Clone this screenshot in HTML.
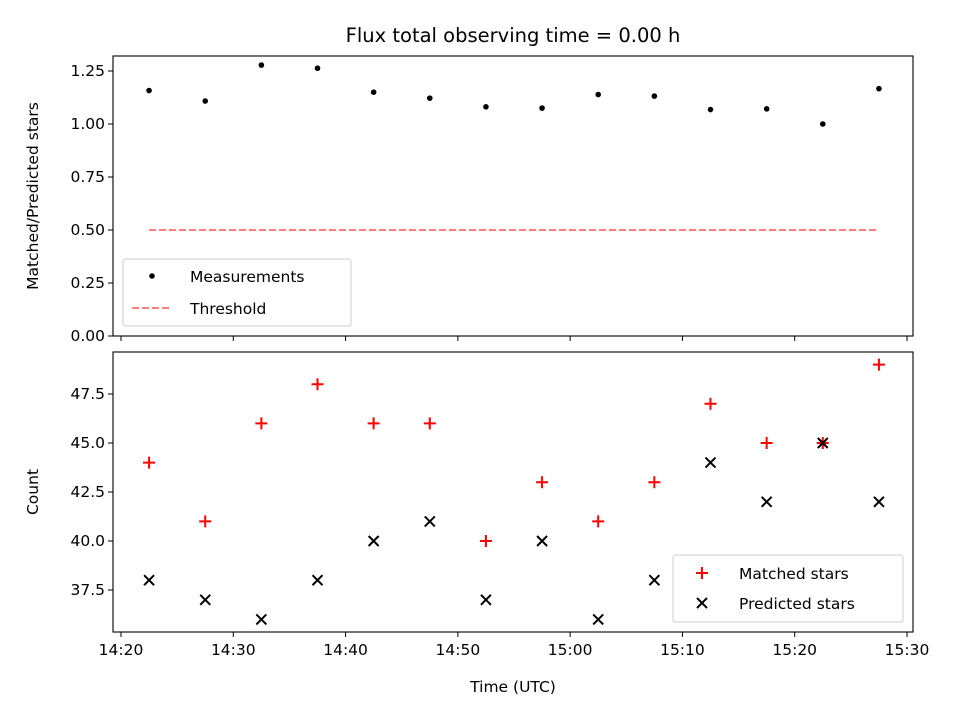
<!DOCTYPE html>
<html><head><meta charset="utf-8"><style>
body{margin:0;background:#fff;}
svg text{font-family:"DejaVu Sans","Liberation Sans",sans-serif;fill:#000;}
</style></head><body>
<svg id="chart" width="960" height="720" xmlns="http://www.w3.org/2000/svg">
<rect width="960" height="720" fill="#fff"/>
<text x="513" y="42" font-size="19.5" text-anchor="middle">Flux total observing time = 0.00 h</text>
<g id="topPanel"></g><g id="botPanel"></g>
</svg>
<script>
const times = ["14:22:30","14:27:30","14:32:30","14:37:30","14:42:30","14:47:30","14:52:30","14:57:30","15:02:30","15:07:30","15:12:30","15:17:30","15:22:30","15:27:30"];
const matched = [44,41,46,48,46,46,40,43,41,43,47,45,45,49];
const predicted = [38,37,36,38,40,41,37,40,36,38,44,42,45,42];
const ratioTicks = [0.00,0.25,0.50,0.75,1.00,1.25];
const countTicks = [37.5,40.0,42.5,45.0,47.5];
const timeTicks = ["14:20","14:30","14:40","14:50","15:00","15:10","15:20","15:30"];
const threshold = 0.5;

const NS="http://www.w3.org/2000/svg";
function mk(p,t,a){const e=document.createElementNS(NS,t);for(const k in a)e.setAttribute(k,a[k]);p.appendChild(e);return e;}
function mins(s){const p=s.split(":").map(Number);return (p[0]*60+p[1]+(p[2]||0)/60)-(14*60+20);}
const L=113,R=913;
const xs=m=>121+(m)*(786/70);
const TB={t:56,b:336}, BB={t:352,b:632};
const yTop=v=>336-v*212;
const yBot=v=>541-(v-40)*19.6;
const gTop=document.getElementById('topPanel'), gBot=document.getElementById('botPanel');

function frame(g,box,name){
  const r=mk(g,'rect',{x:L,y:box.t,width:R-L,height:box.b-box.t,fill:'none',stroke:'#000','stroke-width':1.1});
  
  
}
function yticks(g,ticks,f,dec,name){
  ticks.forEach(v=>{const y=f(v);
    mk(g,'line',{x1:L-5,x2:L,y1:y,y2:y,stroke:'#000'});
    const t=mk(g,'text',{x:L-8,y:y+5,'font-size':15.5,'text-anchor':'end'});
    
    
    t.textContent=v.toFixed(dec);});
}
function xticks(g,box,labels){
  timeTicks.forEach(s=>{const x=xs(mins(s));
    mk(g,'line',{x1:x,x2:x,y1:box.b,y2:box.b+5,stroke:'#000'});
    if(labels){const t=mk(g,'text',{x:x,y:box.b+23,'font-size':15.5,'text-anchor':'middle'});
      
      
      t.textContent=s;}
  });
}
frame(gTop,TB,'ratio-axes');
yticks(gTop,ratioTicks,yTop,2,'y-tick-label');
xticks(gTop,TB,false);
const th=mk(gTop,'line',{x1:xs(mins(times[0])),x2:xs(mins(times[times.length-1])),y1:yTop(threshold),y2:yTop(threshold),stroke:'#ff7f7f','stroke-width':2,'stroke-dasharray':'7,3'});


times.forEach((s,i)=>{const c=mk(gTop,'circle',{cx:xs(mins(s)),cy:yTop(matched[i]/predicted[i]),r:2.8,fill:'#000'});
  
  });
const yl=mk(gTop,'text',{x:0,y:0,'font-size':15.5,'text-anchor':'middle',transform:'translate(38,196) rotate(-90)'});


yl.textContent='Matched/Predicted stars';
const lg=mk(gTop,'g',{});


mk(lg,'rect',{x:123,y:259,width:228,height:67,rx:3,fill:'#fff',stroke:'#ccc'});
mk(lg,'circle',{cx:152,cy:276,r:2.8,fill:'#000'});
const t1=mk(lg,'text',{x:190,y:282,'font-size':15.5});t1.textContent='Measurements';
mk(lg,'line',{x1:132,x2:172,y1:308,y2:308,stroke:'#ff7f7f','stroke-width':2,'stroke-dasharray':'7,3'});
const t2=mk(lg,'text',{x:190,y:314,'font-size':15.5});t2.textContent='Threshold';

frame(gBot,BB,'count-axes');
yticks(gBot,countTicks,yBot,1,'y-tick-label');
xticks(gBot,BB,true);
times.forEach((s,i)=>{const x=xs(mins(s)),y=yBot(matched[i]);
  const p=mk(gBot,'path',{d:`M${x-6} ${y}H${x+6}M${x} ${y-6}V${y+6}`,stroke:'#f00','stroke-width':2});
  
  });
times.forEach((s,i)=>{const x=xs(mins(s)),y=yBot(predicted[i]);
  const p=mk(gBot,'path',{d:`M${x-5} ${y-5}L${x+5} ${y+5}M${x-5} ${y+5}L${x+5} ${y-5}`,stroke:'#000','stroke-width':2});
  
  });
const yl2=mk(gBot,'text',{x:0,y:0,'font-size':15.5,'text-anchor':'middle',transform:'translate(38,492) rotate(-90)'});


yl2.textContent='Count';
const xl=mk(gBot,'text',{x:513,y:692,'font-size':15.5,'text-anchor':'middle'});


xl.textContent='Time (UTC)';
const lg2=mk(gBot,'g',{});


mk(lg2,'rect',{x:673,y:555,width:230,height:67,rx:3,fill:'#fff',stroke:'#ccc'});
mk(lg2,'path',{d:'M696 573H708M702 567V579',stroke:'#f00','stroke-width':2});
const t3=mk(lg2,'text',{x:739,y:579,'font-size':15.5});t3.textContent='Matched stars';
mk(lg2,'path',{d:'M697 598L707 608M697 608L707 598',stroke:'#000','stroke-width':2});
const t4=mk(lg2,'text',{x:739,y:609,'font-size':15.5});t4.textContent='Predicted stars';
</script>
</body></html>
